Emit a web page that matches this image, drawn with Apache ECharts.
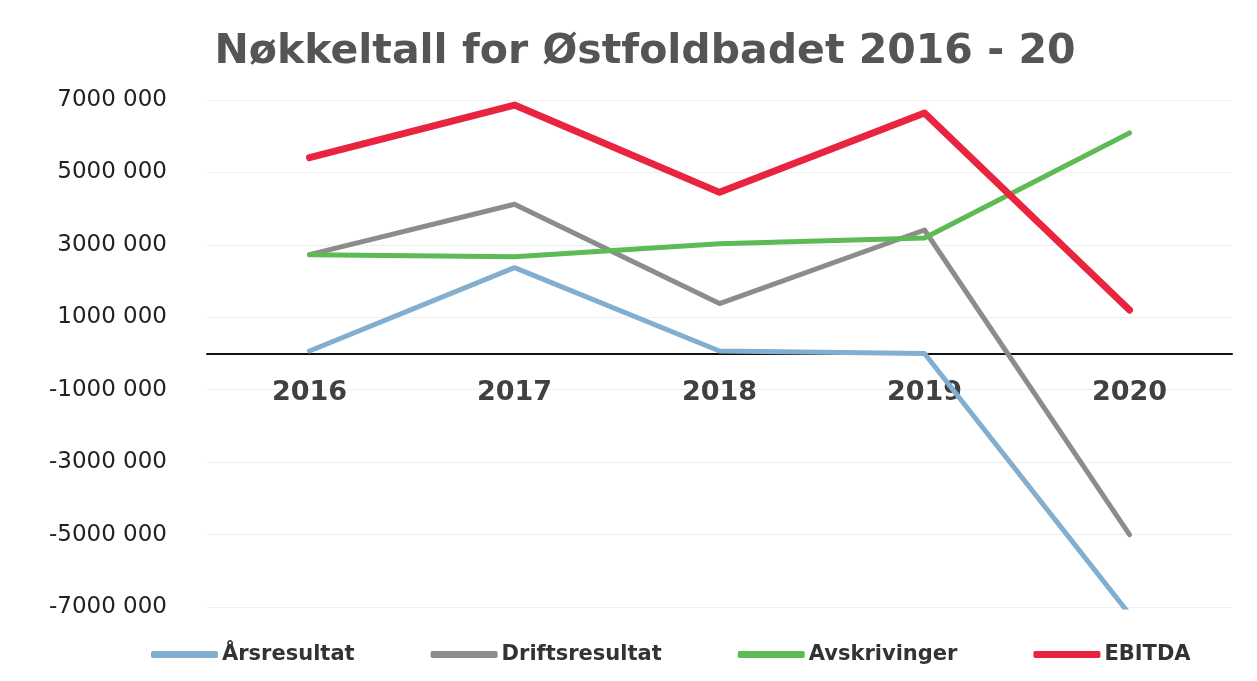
<!DOCTYPE html>
<html>
<head>
<meta charset="utf-8">
<script src="https://cdn.jsdelivr.net/npm/echarts@6/dist/echarts.min.js"></script>
<style>
  html, body { margin: 0; padding: 0; background: #fff; }
  #chart { width: 1257px; height: 681px; }
</style>
</head>
<body>
<div id="chart"></div>
<script>
// data
const years = ['2016', '2017', '2018', '2019', '2020'];
const arsresultat = [70000, 2370000, 70000, 0, -7200000];
const driftsresultat = [2730000, 4120000, 1380000, 3410000, -5000000];
const avskrivinger = [2730000, 2670000, 3030000, 3190000, 6090000];
const ebitda = [5410000, 6860000, 4450000, 6640000, 1200000];
const seriesNames = ['Årsresultat', 'Driftsresultat', 'Avskrivinger', 'EBITDA'];

const chart = echarts.init(document.getElementById('chart'));

// "7000 000" style labels
function fmtY(v) {
  const sign = v < 0 ? '-' : '';
  return sign + Math.abs(v) / 1000 + ' 000';
}

function line(name, data, color, width) {
  return {
    name: name,
    type: 'line',
    data: data,
    showSymbol: false,
    symbol: 'none',
    lineStyle: { color: color, width: width, cap: 'round', join: 'round' },
    itemStyle: { color: color },
    emphasis: { disabled: true }
  };
}

const gridTop = 100, gridBottom = 74;
const plotH = 681 - gridTop - gridBottom;

const option = {
  animation: false,
  title: {
    text: 'Nøkkeltall for Østfoldbadet 2016 - 20',
    left: 640,
    textAlign: 'center',
    top: 27,
    textStyle: { fontFamily: 'DejaVu Sans', fontWeight: 'bold', fontSize: 41, color: '#555' }
  },
  legend: {
    top: 639,
    left: 146,
    icon: 'roundRect',
    itemWidth: 67,
    itemHeight: 7,
    itemGap: 76,
    data: seriesNames,
    textStyle: { fontFamily: 'DejaVu Sans', fontWeight: 'bold', fontSize: 21, color: '#333', padding: [0, 0, 0, -1] }
  },
  grid: { left: 207, right: 25, top: gridTop, bottom: gridBottom },
  xAxis: {
    type: 'category',
    data: years,
    position: 'bottom',
    offset: -plotH / 2, // axis sits on the zero line
    axisLine: { onZero: false, lineStyle: { color: '#111', width: 2 } },
    axisTick: { show: false },
    axisLabel: { margin: 26, fontFamily: 'DejaVu Sans', fontWeight: 'bold', fontSize: 27, color: '#404040' }
  },
  yAxis: {
    type: 'value',
    min: -7000000,
    max: 7000000,
    interval: 2000000,
    axisLine: { show: false },
    axisTick: { show: false },
    splitLine: { lineStyle: { color: '#efefef', width: 1 } },
    axisLabel: { formatter: fmtY, margin: 40, fontFamily: 'DejaVu Sans', fontSize: 23, color: '#222' }
  },
  series: [
    line(seriesNames[0], arsresultat, '#82aed0', 5),
    line(seriesNames[1], driftsresultat, '#8c8c8c', 5),
    line(seriesNames[2], avskrivinger, '#5dba55', 5),
    line(seriesNames[3], ebitda, '#e8243f', 7)
  ]
};

chart.setOption(option);
</script>
</body>
</html>
